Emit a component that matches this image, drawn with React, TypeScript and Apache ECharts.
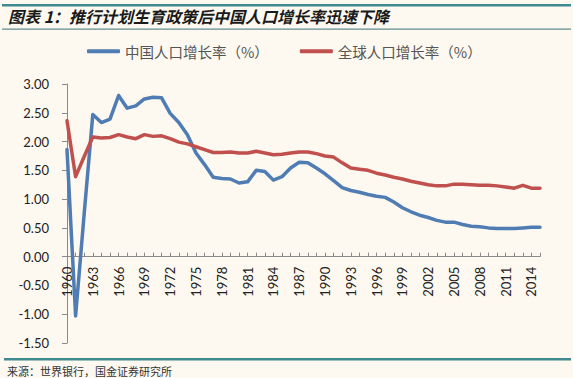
import React, { useEffect, useRef } from "react";
import * as echarts from "echarts";

const years: string[] = [];
for (let y = 1960; y <= 2015; y++) years.push(String(y));

const chinaGrowth = [
  1.86, -1.03, 0.75, 2.47, 2.33, 2.39, 2.8, 2.58, 2.62, 2.74,
  2.77, 2.76, 2.49, 2.33, 2.12, 1.8, 1.6, 1.38, 1.36, 1.35,
  1.28, 1.3, 1.5, 1.48, 1.33, 1.39, 1.54, 1.64, 1.63, 1.54,
  1.44, 1.32, 1.2, 1.15, 1.12, 1.08, 1.05, 1.03, 0.95, 0.85,
  0.78, 0.72, 0.68, 0.63, 0.6, 0.6, 0.56, 0.53, 0.52, 0.5,
  0.49, 0.49, 0.49, 0.5, 0.51, 0.51,
];

const worldGrowth = [
  2.36, 1.39, 1.74, 2.08, 2.06, 2.07, 2.12, 2.08, 2.05, 2.12,
  2.09, 2.1, 2.05, 1.99, 1.96, 1.91, 1.86, 1.81, 1.81, 1.82,
  1.8, 1.8, 1.83, 1.8, 1.77, 1.78, 1.8, 1.82, 1.82, 1.79,
  1.75, 1.73, 1.63, 1.54, 1.52, 1.5, 1.45, 1.42, 1.38, 1.35,
  1.31, 1.28, 1.25, 1.23, 1.23, 1.26, 1.26, 1.25, 1.24, 1.24,
  1.23, 1.21, 1.19, 1.24, 1.19, 1.19,
];

const seriesNames = ["中国人口增长率（%）", "全球人口增长率（%）"];
const titleText = "图表 1：推行计划生育政策后中国人口增长率迅速下降";
const sourceText = "来源：世界银行，国金证券研究所";

const Y_MIN = -1.5;
const Y_MAX = 3;

const BG = "#FDF9F0";
const TEAL = "#3F8A8E";

export default function App() {
  const ref = useRef<HTMLDivElement>(null);
  useEffect(() => {
    if (!ref.current) return;
    const chart = echarts.init(ref.current, null, { renderer: "svg" });
    const gridTop = 84;
    const gridBottom = 35;
    const plotH = 378 - gridTop - gridBottom;
    const zeroOffset = -(plotH * (0 - Y_MIN)) / (Y_MAX - Y_MIN);
    chart.setOption({
      animation: false,
      backgroundColor: BG,
      textStyle: { fontFamily: "Lato, 'Noto Sans CJK SC', sans-serif" },
      graphic: [
        { type: "rect", shape: { x: 2, y: 4, width: 569, height: 2.5 }, style: { fill: TEAL } },
        {
          type: "text",
          x: 8,
          y: 15.5,
          style: {
            text: titleText,
            fontSize: 16,
            fontWeight: "bold",
            fontStyle: "italic",
            fontFamily: "'Noto Sans CJK SC'",
            fill: "#1a1a1a",
            verticalAlign: "middle",
          },
        },
        { type: "rect", shape: { x: 2, y: 28.5, width: 569, height: 1.2 }, style: { fill: "#5F8C92" } },
        { type: "rect", shape: { x: 4, y: 358, width: 567, height: 2.5 }, style: { fill: TEAL } },
        {
          type: "text",
          x: 7,
          y: 370.5,
          style: {
            text: sourceText,
            fontSize: 11,
            fontFamily: "'Noto Sans CJK SC'",
            fill: "#333",
            verticalAlign: "middle",
          },
        },
      ],
      legend: {
        left: 82,
        top: 39,
        itemWidth: 33,
        itemHeight: 4,
        itemGap: 31,
        icon: "roundRect",
        textStyle: {
          fontSize: 14.5,
          color: "#555",
          fontFamily: "'Noto Sans CJK SC'",
        },
        data: seriesNames,
      },
      grid: { left: 67, right: 33, top: gridTop, bottom: gridBottom, containLabel: false },
      xAxis: {
        type: "category",
        data: years,
        boundaryGap: false,
        position: "bottom",
        offset: zeroOffset,
        axisLine: { onZero: false, lineStyle: { color: "#8a8a8a", width: 1 } },
        axisTick: { show: true, inside: true, length: 4, interval: 0, lineStyle: { color: "#8a8a8a" } },
        axisLabel: {
          interval: 2,
          rotate: 90,
          margin: 10,
          fontSize: 13,
          color: "#222",
        },
        splitLine: { show: false },
      },
      yAxis: {
        type: "value",
        min: Y_MIN,
        max: Y_MAX,
        interval: 0.5,
        axisLine: { show: true, lineStyle: { color: "#8a8a8a", width: 1 } },
        axisTick: { show: true, length: 5, lineStyle: { color: "#8a8a8a" } },
        axisLabel: {
          margin: 18,
          fontSize: 13,
          color: "#222",
          formatter: (v: number) => v.toFixed(2),
        },
        splitLine: { show: false },
      },
      series: [
        {
          name: seriesNames[0],
          type: "line",
          data: chinaGrowth,
          showSymbol: false,
          symbol: "none",
          itemStyle: { color: "#4F7DB3" },
          lineStyle: { color: "#4F7DB3", width: 3.5, join: "round", cap: "round" },
        },
        {
          name: seriesNames[1],
          type: "line",
          data: worldGrowth,
          showSymbol: false,
          symbol: "none",
          itemStyle: { color: "#C0504D" },
          lineStyle: { color: "#C0504D", width: 3.5, join: "round", cap: "round" },
        },
      ],
    });
    return () => chart.dispose();
  }, []);
  return (
    <div
      ref={ref}
      style={{ position: "fixed", left: 0, top: 0, width: 573, height: 378, background: BG }}
    />
  );
}
